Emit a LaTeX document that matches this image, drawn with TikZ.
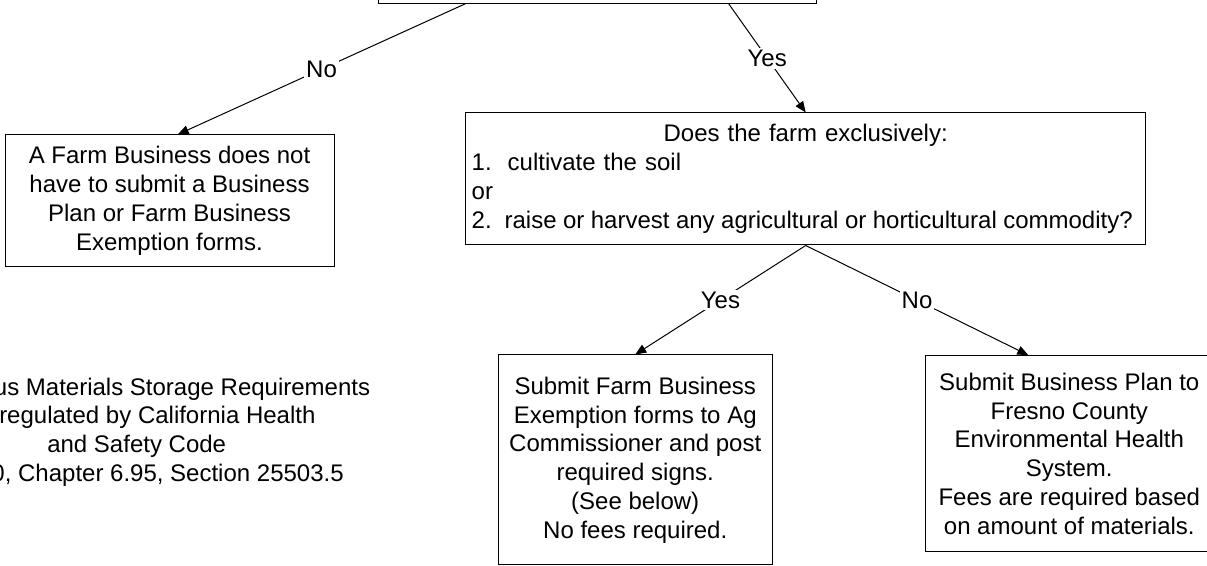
\documentclass[tikz,border=0pt]{standalone}
\usepackage{fontspec}
\setmainfont{Liberation Sans}
\usetikzlibrary{arrows.meta,calc}

\begin{document}
\begin{tikzpicture}[x=0.5pt,y=0.5pt]
\tikzstyle{every node}+=[font=\fontsize{12}{14.4}\selectfont]
\tikzstyle{box}=[draw=black, line width=0.5pt, inner sep=0pt, align=center]
\tikzstyle{lbl}=[fill=white, inner sep=1pt]
\tikzstyle{link}=[line width=0.5pt, -{Triangle[length=5.5pt,width=4.5pt]}]
\useasboundingbox (0,0) rectangle (1207,-566);
\clip (0,0) rectangle (1207,-566);
\node [box, minimum width=219pt, minimum height=40pt] (farm) at (597,36.7) {};
\node [box, minimum width=164.5pt, minimum height=66pt] (nobiz) at (169.5,-201) {A Farm Business does not\\have to submit a Business\\Plan or Farm Business\\Exemption forms.};
\node [box, minimum width=340pt, minimum height=66pt, text width=334pt, align=left] (ask) at (805.7,-179) {\makebox[\linewidth][c]{Does the farm exclusively:}\\\mbox{1.\ \ cultivate the soil}\\\mbox{or}\\\mbox{\spaceskip=3.23pt 2.\ \ raise or harvest any agricultural or horticultural commodity?}};
\node [box, minimum width=137.25pt, minimum height=105pt] (exempt) at (635.25,-460) {Submit Farm Business\\Exemption forms to Ag\\Commissioner and post\\required signs.\\(See below)\\No fees required.};
\node [box, minimum width=143.65pt, minimum height=98pt] (plan) at (1069.3,-453.7) {Submit Business Plan to\\Fresno County\\Environmental Health\\System.\\Fees are required based\\on amount of materials.};
\node [align=center] (code) at (136.7,-432) {Hazardous Materials Storage Requirements\\are regulated by California Health\\and Safety Code\\Div. 20, Chapter 6.95, Section 25503.5};
% connectors
\draw [link] ($(farm.south west)!.2!(farm.south east)$) -- node [lbl] {No} ($(nobiz.north west)!.525!(nobiz.north east)$);
\draw [link] ($(farm.south west)!.8!(farm.south east)$) -- node [lbl] {Yes} (ask.north);
\draw [link] (ask.south) -- node [lbl] {Yes} (exempt.north);
\draw [link] (ask.south) -- node [lbl] {No} ($(plan.north west)!.358!(plan.north east)$);
\end{tikzpicture}
\end{document}
